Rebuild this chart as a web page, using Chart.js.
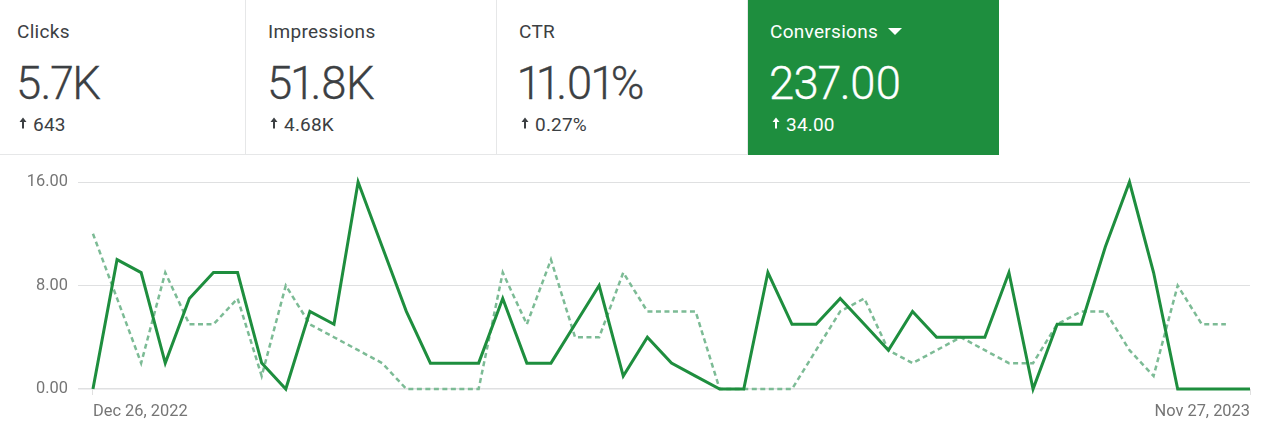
<!DOCTYPE html>
<html>
<head>
<meta charset="utf-8">
<script src="https://cdn.jsdelivr.net/npm/chart.js@4"></script>
<style>
    html, body { margin: 0; padding: 0; background: #fff; width: 1269px; height: 439px; overflow: hidden; }
    body { font-family: Roboto, sans-serif; color: #3c4043; position: relative; }
    #cards { position: absolute; left: -5px; top: 0; height: 155px; display: flex; }
    .card { width: 251px; height: 155px; box-sizing: border-box; padding-left: 22px; position: relative;
            border-right: 1px solid #e6e7e8; border-bottom: 1px solid #e6e7e8; }
    .card.active { background: #1e8e3e; color: #fff; border: none; }
    .name { position: absolute; top: 21.5px; font-size: 19px; line-height: 20px; letter-spacing: 0.3px; white-space: nowrap; }
    .value { position: absolute; top: 60px; margin-left: -1px; font-size: 45.5px; line-height: 48px; letter-spacing: -0.8px; font-weight: 300;
             font-variant-numeric: proportional-nums; -webkit-text-stroke: 0.3px currentColor; white-space: nowrap; }
    .delta { position: absolute; top: 114.5px; font-size: 19px; line-height: 20px; letter-spacing: 0.2px; white-space: nowrap; }
    .delta svg { width: 10px; height: 12px; margin-right: 5px; margin-left: 1px; vertical-align: 2px; }
    .caret { display: inline-block; margin-left: 10px; vertical-align: 3px; width: 0; height: 0;
             border-left: 7px solid transparent; border-right: 7px solid transparent; border-top: 7px solid #fff; }
    #chart-wrap { position: absolute; left: 0; top: 155px; width: 1269px; height: 284px; }
</style>
</head>
<body>
<div id="cards"></div>
<div id="chart-wrap"><canvas id="chart"></canvas></div>
<script>
// KPI cards
const cardNames = ['Clicks', 'Impressions', 'CTR', 'Conversions'];
const cardValues = ['5.7K', '51.8K', '11.01%', '237.00'];
const cardDeltas = ['643', '4.68K', '0.27%', '34.00'];
const activeCard = 3;

// weekly conversions, current and previous period
const current = [0, 10, 9, 2, 7, 9, 9, 2, 0, 6, 5, 16, 11, 6, 2, 2, 2, 7, 2, 2, 5, 8, 1, 4, 2,
    1, 0, 0, 9, 5, 5, 7, 5, 3, 6, 4, 4, 4, 9, 0, 5, 5, 11, 16, 9, 0, 0, 0, 0];
const previous = [12, 7, 2, 9, 5, 5, 7, 1, 8, 5, 4, 3, 2, 0, 0, 0, 0, 9, 5, 10, 4, 4, 9, 6, 6,
    6, 0, 0, 0, 0, 3, 6, 7, 3, 2, 3, 4, 3, 2, 2, 5, 6, 6, 3, 1, 8, 5, 5];
const yTicks = [0, 8, 16];
const xLabels = { 0: 'Dec 26, 2022', 48: 'Nov 27, 2023' };

const arrow = '<svg viewBox="0 0 10 12"><path d="M5 0.5 L8.5 5 H6 V11.5 H4 V5 H1.5 Z" fill="currentColor"/></svg>';
document.getElementById('cards').innerHTML = cardNames.map((name, i) => {
    const caret = i === activeCard ? '<span class="caret"></span>' : '';
    return `<div class="card${i === activeCard ? ' active' : ''}">
        <div class="name">${name}${caret}</div>
        <div class="value">${cardValues[i]}</div>
        <div class="delta">${arrow}${cardDeltas[i]}</div>
    </div>`;
}).join('');

const toPoints = arr => arr.map((v, i) => ({ x: i, y: v }));

new Chart(document.getElementById('chart'), {
    type: 'line',
    data: {
        datasets: [
            { data: toPoints(current), borderColor: '#1e8e3e', borderWidth: 3, order: 1 },
            { data: toPoints(previous), borderColor: '#7cbb95', borderWidth: 2.5, borderDash: [5, 3.5], order: 2 }
        ]
    },
    options: {
        responsive: true,
        maintainAspectRatio: false,
        animation: false,
        layout: { padding: { top: 27, right: 19, left: 0, bottom: 0 } },
        plugins: { legend: { display: false }, tooltip: { enabled: false } },
        elements: { point: { radius: 0 }, line: { tension: 0 } },
        clip: false,
        scales: {
            x: {
                type: 'linear',
                min: -0.62,
                max: 48,
                border: { display: false },
                grid: { drawOnChartArea: false, tickLength: 6, tickColor: '#e0e0e0' },
                afterBuildTicks: scale => { scale.ticks = Object.keys(xLabels).map(k => ({ value: +k })); },
                afterFit: scale => { scale.height = 50; },
                ticks: {
                    autoSkip: false,
                    maxRotation: 0,
                    align: 'inner',
                    padding: 7,
                    color: '#757575',
                    font: { family: 'Roboto', size: 16.4 },
                    callback: v => xLabels[v]
                }
            },
            y: {
                min: 0,
                max: 16,
                border: { display: false },
                grid: { color: '#dfe0e1', drawTicks: false, lineWidth: ctx => ctx.tick.value === 0 ? 1.5 : 1 },
                afterBuildTicks: scale => { scale.ticks = yTicks.map(v => ({ value: v })); },
                afterFit: scale => { scale.width = 78; },
                ticks: {
                    padding: 10,
                    color: '#757575',
                    font: { family: 'Roboto', size: 16.4 },
                    callback: v => v.toFixed(2)
                }
            }
        }
    }
});
</script>
</body>
</html>
